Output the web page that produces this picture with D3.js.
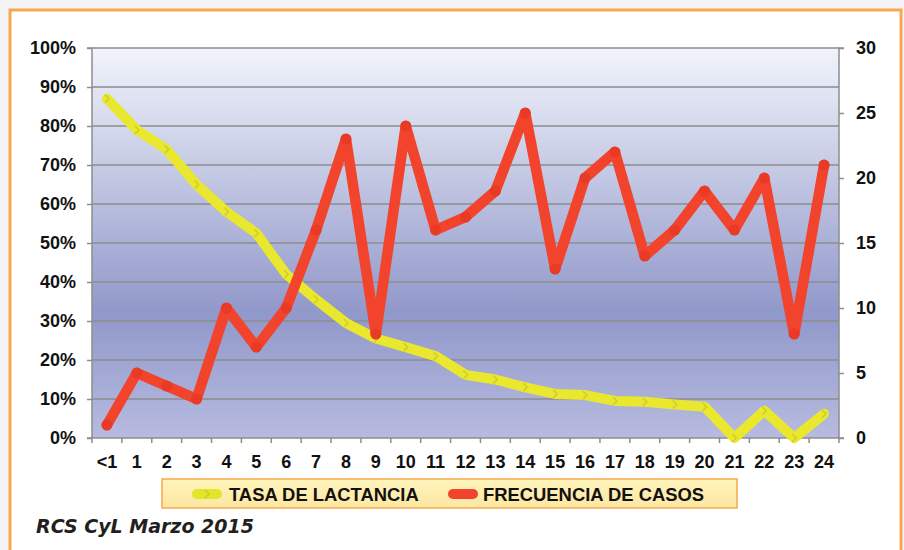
<!DOCTYPE html>
<html>
<head>
<meta charset="utf-8">
<script src="https://cdn.jsdelivr.net/npm/d3@7"></script>
<style>
  body { margin: 0; background: #f4f4f4; }
  svg { display: block; }
  text { font-family: "Liberation Sans", Arial, sans-serif; font-weight: bold; fill: #111; }
</style>
</head>
<body>
<script>
const categories = ["<1","1","2","3","4","5","6","7","8","9","10","11","12","13","14","15","16","17","18","19","20","21","22","23","24"]
const lactancia = [87,79,74,65,58,52.5,42,35.5,29.5,25.5,23.3,21,16.2,15,13,11.3,11,9.5,9.3,8.6,8,0,7,0,6.2]
const casos = [1,5,4,3,10,7,10,16,23,8,24,16,17,19,25,13,20,22,14,16,19,16,20,8,21]
const leftTicks = [0,10,20,30,40,50,60,70,80,90,100]
const rightTicks = [0,5,10,15,20,25,30]
const seriesNames = ["TASA DE LACTANCIA", "FRECUENCIA DE CASOS"]

const width = 904
const height = 550
const m = {left: 92, right: 839, top: 48, bottom: 438}

const svg = d3.select("body")
    .append("svg")
    .attr("width", width)
    .attr("height", height)

const defs = svg.append("defs")
const bg = defs.append("linearGradient").attr("id", "bg").attr("x1", 0).attr("x2", 0).attr("y1", 0).attr("y2", 1)
bg.append("stop").attr("offset", "0%").attr("stop-color", "#f1f4fb")
bg.append("stop").attr("offset", "68%").attr("stop-color", "#9198ca")
bg.append("stop").attr("offset", "100%").attr("stop-color", "#b7bbe0")

const lg = defs.append("linearGradient").attr("id", "lg").attr("x1", 0).attr("x2", 0).attr("y1", 0).attr("y2", 1)
lg.append("stop").attr("offset", "0%").attr("stop-color", "#fff4bd")
lg.append("stop").attr("offset", "100%").attr("stop-color", "#fde6a0")

// frame
svg.append("rect")
    .attr("x", 10).attr("y", 10)
    .attr("width", 891).attr("height", 560)
    .attr("fill", "white")
    .attr("stroke", "#f6a84e")
    .attr("stroke-width", 3)

const x = d3.scaleBand()
    .domain(categories)
    .range([m.left, m.right])

const yL = d3.scaleLinear().domain([0, 100]).range([m.bottom, m.top])
const yR = d3.scaleLinear().domain([0, 30]).range([m.bottom, m.top])

svg.append("rect")
    .attr("x", m.left).attr("y", m.top)
    .attr("width", m.right - m.left).attr("height", m.bottom - m.top)
    .attr("fill", "url(#bg)")

// grid
svg.append("g")
    .selectAll("line")
    .data(leftTicks.filter(d => d > 0))
    .join("line")
    .attr("x1", m.left).attr("x2", m.right)
    .attr("y1", d => yL(d)).attr("y2", d => yL(d))
    .attr("stroke", "#8d8d8d")
    .attr("stroke-width", 1.5)

// left axis
const axL = svg.append("g")
    .attr("transform", `translate(${m.left},0)`)
    .call(d3.axisLeft(yL).tickValues(leftTicks).tickFormat(d => d + "%").tickSize(5).tickPadding(11))
axL.selectAll("text").style("font-size", "18px")

// right axis
const axR = svg.append("g")
    .attr("transform", `translate(${m.right},0)`)
    .call(d3.axisRight(yR).tickValues(rightTicks).tickSize(5).tickPadding(12))
axR.selectAll("text").style("font-size", "18px")

// bottom axis
const axB = svg.append("g")
    .attr("transform", `translate(0,${m.bottom})`)
    .call(d3.axisBottom(x).tickSize(0).tickPadding(17))
axB.selectAll("text").style("font-size", "18px")
axB.selectAll(".edge")
    .data(d3.range(categories.length + 1))
    .join("line")
    .attr("class", "edge")
    .attr("x1", i => m.left + i * x.step()).attr("x2", i => m.left + i * x.step())
    .attr("y1", 0).attr("y2", 5)

svg.selectAll(".domain, .tick line, .edge")
    .attr("stroke", "#8d8d8d")
    .attr("stroke-width", 1.5)
axL.select(".domain").attr("d", `M-5,${m.top}H0V${m.bottom}H-5`)
axR.select(".domain").attr("d", `M5,${m.top}H0V${m.bottom}H5`)
axB.select(".domain").attr("d", `M${m.left},0H${m.right}`)

const cx = d => x(d) + x.bandwidth() / 2

// yellow line
const lineL = d3.line().x((d, i) => cx(categories[i])).y(d => yL(d))
svg.append("path")
    .datum(lactancia)
    .attr("d", lineL)
    .attr("fill", "none")
    .attr("stroke", "#e9e72e")
    .attr("stroke-width", 10)
    .attr("stroke-linejoin", "round")
    .attr("stroke-linecap", "round")

svg.append("g")
    .selectAll("path")
    .data(lactancia)
    .join("path")
    .attr("transform", (d, i) => `translate(${cx(categories[i])},${yL(d)})`)
    .attr("d", "M-2,-4L2,0L-2,4")
    .attr("fill", "none")
    .attr("stroke", "#cfcd2a")
    .attr("stroke-width", 1.5)

// red line
const lineR = d3.line().x((d, i) => cx(categories[i])).y(d => yR(d))
svg.append("path")
    .datum(casos)
    .attr("d", lineR)
    .attr("fill", "none")
    .attr("stroke", "#f2432c")
    .attr("stroke-width", 10.5)
    .attr("stroke-linejoin", "round")
    .attr("stroke-linecap", "round")

svg.append("g")
    .selectAll("circle")
    .data(casos)
    .join("circle")
    .attr("cx", (d, i) => cx(categories[i]))
    .attr("cy", d => yR(d))
    .attr("r", 5.5)
    .attr("fill", "#e93a26")

// legend
const leg = svg.append("g")
leg.append("rect")
    .attr("x", 162).attr("y", 479)
    .attr("width", 575).attr("height", 29)
    .attr("fill", "url(#lg)")
    .attr("stroke", "#f6a84e")
    .attr("stroke-width", 1.5)

leg.append("line")
    .attr("x1", 197).attr("x2", 217).attr("y1", 494).attr("y2", 494)
    .attr("stroke", "#e2e52a").attr("stroke-width", 10).attr("stroke-linecap", "round")
leg.append("path")
    .attr("d", "M205,490L209,494L205,498")
    .attr("fill", "none").attr("stroke", "#cfcd2a").attr("stroke-width", 1.5)
leg.append("text")
    .attr("x", 229).attr("y", 500.5)
    .style("font-size", "18.4px")
    .text(seriesNames[0])

leg.append("line")
    .attr("x1", 453).attr("x2", 473).attr("y1", 494).attr("y2", 494)
    .attr("stroke", "#f2432c").attr("stroke-width", 10).attr("stroke-linecap", "round")
leg.append("text")
    .attr("x", 483).attr("y", 500.5)
    .style("font-size", "18.4px")
    .text(seriesNames[1])

svg.append("text")
    .attr("x", 36).attr("y", 533)
    .style("font-family", "'DejaVu Sans', sans-serif")
    .style("font-style", "italic")
    .style("font-weight", "bold")
    .style("font-size", "19px")
    .style("fill", "#231f20")
    .text("RCS CyL Marzo 2015")
</script>
</body>
</html>
